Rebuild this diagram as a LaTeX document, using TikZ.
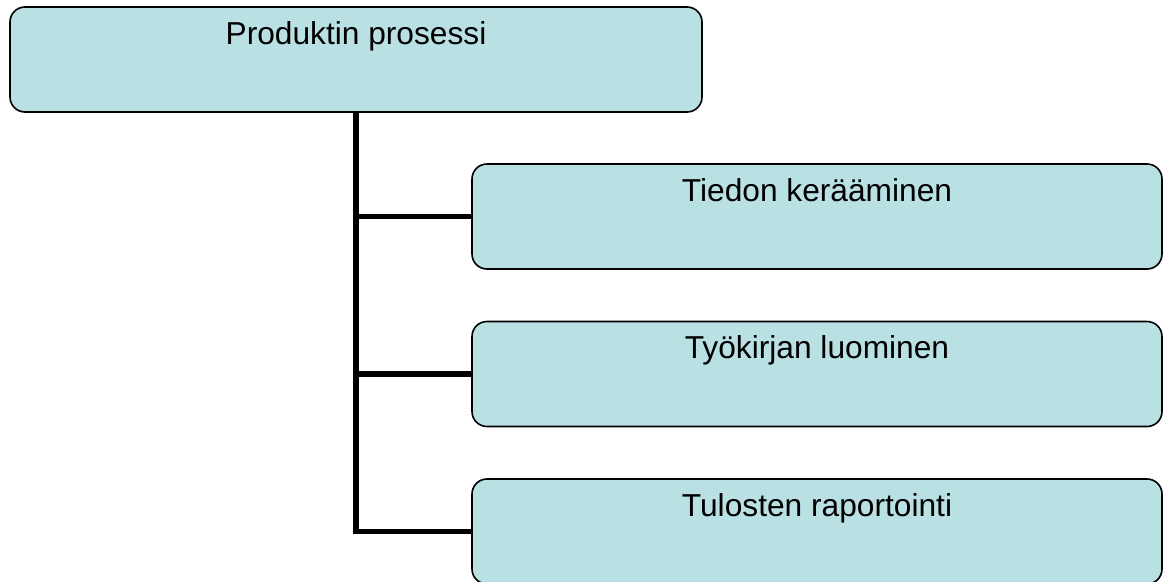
\documentclass[tikz,border=0pt]{standalone}
\usepackage{fontspec}
\setmainfont{Liberation Sans}
\usetikzlibrary{backgrounds}
\definecolor{boxfill}{RGB}{185,224,227}
\begin{document}
\begin{tikzpicture}[x=1pt,y=-1pt,
  box/.style={draw=black, line width=1.6pt, fill=boxfill, rounded corners=15pt,
    inner sep=0pt, text height=37pt, text depth=68pt, minimum height=105pt,
    font=\fontsize{31.7}{38}\selectfont},
  conn/.style={draw=black, line width=5.5pt, line join=miter}]
\useasboundingbox (0,0) rectangle (1166,581);
\node[box, minimum width=692pt] (top) at (356,59.5) {Produktin prosessi};
\node[box, minimum width=690pt] (c1) at (817,216.5) {Tiedon kerääminen};
\node[box, minimum width=690pt] (c2) at (817,374) {Työkirjan luominen};
\node[box, minimum width=690pt] (c3) at (817,531.5) {Tulosten raportointi};
\begin{scope}[on background layer]
\fill[white] (0,0) rectangle (1166,581);
\draw[conn] (top.south) |- (c1.center);
\draw[conn] (top.south) |- (c2.center);
\draw[conn] (top.south) |- (c3.center);
\end{scope}
\end{tikzpicture}
\end{document}
